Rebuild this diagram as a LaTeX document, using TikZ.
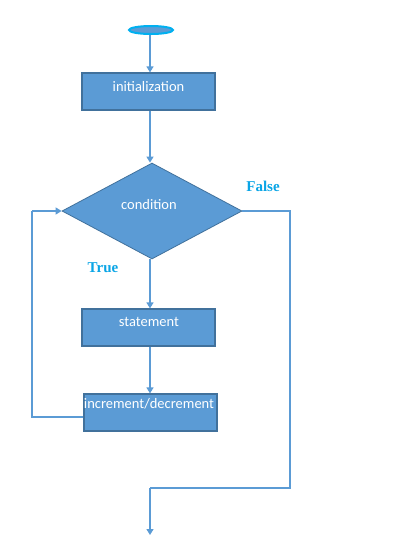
\documentclass[tikz,border=0pt]{standalone}
\usepackage{fontspec}
\setmainfont{Carlito}
\newfontfamily\lblfont{Liberation Serif}
\usetikzlibrary{shapes.geometric,arrows.meta}
\definecolor{boxfill}{HTML}{5B9BD5}
\definecolor{boxedge}{HTML}{41719C}
\definecolor{cyanline}{HTML}{00B0F0}
\definecolor{lbl}{HTML}{0AA5E6}
\tikzset{
  box/.style={draw=boxedge, fill=boxfill, line width=1.2pt, rectangle, inner sep=0pt},
  btext/.style={text=white, font=\fontsize{14.5}{16}\selectfont, inner sep=0pt},
  conn/.style={draw=boxfill, line width=1.3pt},
  arr/.style={conn, -{Triangle[width=7pt,length=6pt]}},
  yesno/.style={text=lbl, font=\lblfont\bfseries\fontsize{15}{17}\selectfont, inner sep=0pt},
}
\begin{document}
\begin{tikzpicture}[x=1pt,y=-1pt]
\useasboundingbox[fill=white] (0,0) rectangle (408,550);
% start
\node (start) [ellipse, draw=cyanline, fill=boxfill, line width=2pt, minimum width=44pt, minimum height=8pt, inner sep=0pt] at (151,30) {};
% boxes
\node (init) [box, minimum width=133pt, minimum height=37pt] at (148.5,91.5) {};
\node (initt) [btext] at (148.5,86.5) {initialization};
\node (cond) [diamond, draw=boxedge, fill=boxfill, line width=0.8pt, minimum width=180pt, minimum height=96pt, inner sep=0pt, aspect=1.875] at (152,211) {};
\node (condt) [btext] at (149,205) {condition};
\node (stmt) [box, minimum width=133pt, minimum height=37pt] at (148.5,327.5) {};
\node (stmtt) [btext] at (149,322.3) {statement};
\node (incr) [box, minimum width=133pt, minimum height=37pt] at (150.5,412.5) {};
\node (incrt) [btext] at (149,403.3) {increment/decrement};
% labels
\node (false) [yesno] at (263,186) {False};
\node (true) [yesno] at (103,268) {True};
% coordinates
\coordinate (c1) at (290,211);
\coordinate (c2) at (290,488);
\coordinate (c3) at (150,488);
\coordinate (endpt) at (150,535);
\coordinate (l1) at (32,417);
\coordinate (l2) at (32,211);
\coordinate (axis) at (150,0);
% connectors
\draw[arr] (start.south -| axis) -- (init.north -| axis);
\draw[arr] (init.south -| axis) -- (cond.north -| axis);
\draw[arr] (cond.south -| axis) -- (stmt.north -| axis);
\draw[arr] (stmt.south -| axis) -- (incr.north -| axis);
\draw[conn] (cond.east) -- (c1) -- (c2) -- (c3);
\draw[arr] (c3) -- (endpt);
\draw[conn] (incr.west |- l1) -- (l1) -- (l2);
\draw[arr] (l2) -- (cond.west);
\end{tikzpicture}
\end{document}
